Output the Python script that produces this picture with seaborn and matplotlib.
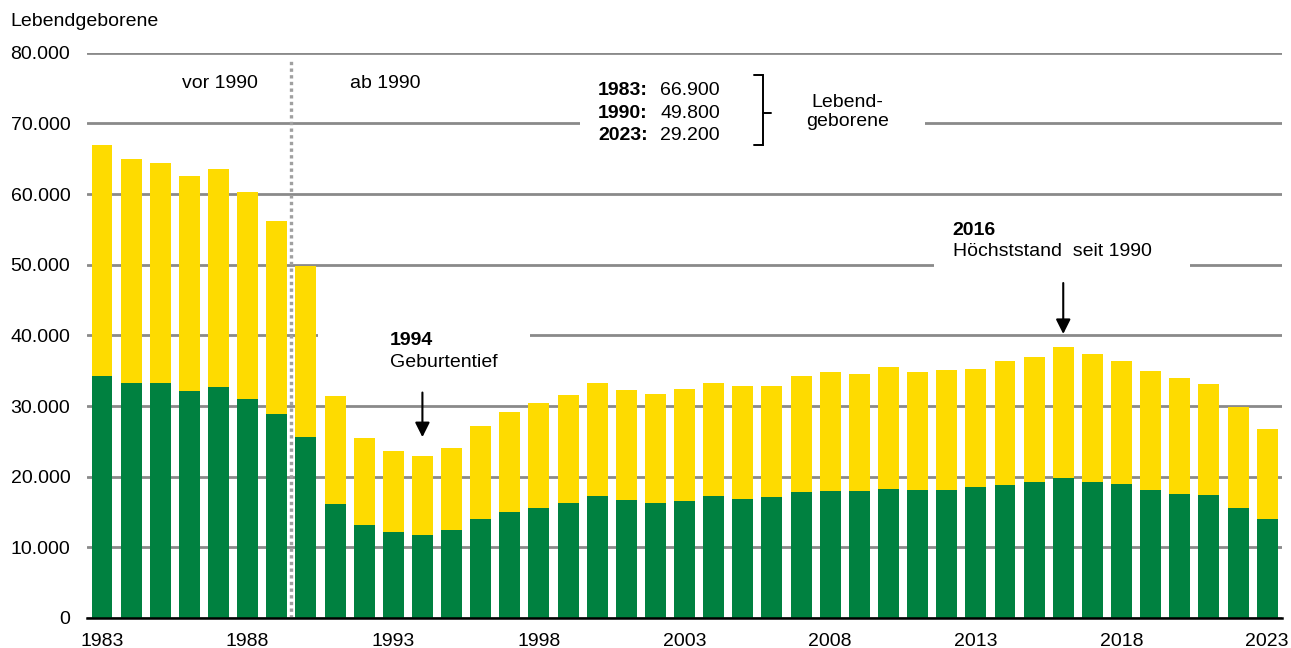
import matplotlib
matplotlib.use("Agg")
import matplotlib.pyplot as plt
import seaborn as sns
import pandas as pd
from matplotlib.patches import Rectangle

# Lebendgeborene je Jahr (gesamt) und unterer (grüner) Anteil
years = list(range(1983, 2024))
total = [66900, 65000, 64400, 62600, 63500, 60300, 56200, 49800, 31400, 25500,
         23600, 22900, 24100, 27200, 29200, 30400, 31600, 33300, 32200, 31700,
         32400, 33300, 32900, 32900, 34200, 34800, 34500, 35500, 34800, 35100,
         35200, 36400, 37000, 38400, 37300, 36400, 35000, 33900, 33100, 29900,
         26800]
green = [34300, 33300, 33200, 32100, 32700, 31000, 28900, 25600, 16200, 13100,
         12200, 11800, 12400, 14000, 15000, 15600, 16300, 17200, 16700, 16300,
         16500, 17200, 16900, 17100, 17800, 18000, 18000, 18300, 18100, 18100,
         18500, 18800, 19200, 19800, 19300, 19000, 18100, 17600, 17400, 15600,
         14000]
yticks = [0, 10000, 20000, 30000, 40000, 50000, 60000, 70000, 80000]
ytick_labels = ["0", "10.000", "20.000", "30.000", "40.000", "50.000", "60.000", "70.000", "80.000"]
xtick_years = [1983, 1988, 1993, 1998, 2003, 2008, 2013, 2018, 2023]
info_years = ["1983:", "1990:", "2023:"]
info_values = ["66.900", "49.800", "29.200"]

df = pd.DataFrame({"Jahr": [str(y) for y in years], "gesamt": total, "gruen": green})

sns.set_theme(style="white")
plt.rcParams["font.family"] = ["Liberation Sans", "DejaVu Sans"]
plt.rcParams["text.color"] = "black"

YELLOW = "#FEDB00"
GREEN = "#008140"
GRID = "#8a8a8a"

fig = plt.figure(figsize=(12.91, 6.48), dpi=100)
ax = fig.add_axes([87 / 1291, 30 / 648, 1195 / 1291, 565.3 / 648])

sns.barplot(data=df, x="Jahr", y="gesamt", color=YELLOW, saturation=1, width=0.72,
            linewidth=0, ax=ax, zorder=3)
sns.barplot(data=df, x="Jahr", y="gruen", color=GREEN, saturation=1, width=0.72,
            linewidth=0, ax=ax, zorder=3)

ax.set_xlim(-0.515, 40.51)
ax.set_ylim(0, 80000)
ax.set_yticks(yticks)
ax.set_yticklabels(ytick_labels)
idx = [years.index(y) for y in xtick_years]
ax.set_xticks(idx)
ax.set_xticklabels([str(y) for y in xtick_years])
ax.tick_params(axis="both", length=0, labelsize=14, colors="black")
ax.tick_params(axis="y", pad=12)
ax.tick_params(axis="x", pad=11)
ax.set_xlabel("")
ax.set_ylabel("")

ax.yaxis.grid(True, color=GRID, linewidth=2.0, zorder=0)
ax.set_axisbelow(True)
for s in ["top", "right", "left"]:
    ax.spines[s].set_visible(False)
ax.spines["bottom"].set_color("black")
ax.spines["bottom"].set_linewidth(1.8)
ax.spines["bottom"].set_zorder(5)

# weiße Flächen, die die Gitterlinien hinter den Beschriftungen unterbrechen
for x0, x1, y0, y1 in [(16.41, 28.26, 66000, 76500), (7.4, 14.7, 37000, 43000), (28.57, 37.36, 47000, 57500)]:
    ax.add_patch(Rectangle((x0, y0), x1 - x0, y1 - y0, facecolor="white", edgecolor="none", zorder=1))

# Trennlinie 1989/1990
ax.axvline(6.5, ymin=0, ymax=0.99, color="#a0a0a0", linewidth=2.4, linestyle=(0, (1, 1)), zorder=4)

ax.text(4.05, 75700, "vor 1990", ha="center", va="center", fontsize=14)
ax.text(9.72, 75700, "ab 1990", ha="center", va="center", fontsize=14)

for i, (lab, val) in enumerate(zip(info_years, info_values)):
    yy = 74600 - i * 3150
    ax.text(17.03, yy, lab, ha="left", va="center", fontsize=14, fontweight="bold", zorder=6)
    ax.text(19.16, yy, val, ha="left", va="center", fontsize=14, zorder=6)

# Klammer
ax.plot([22.4, 22.7, 22.7, 22.4], [66900, 66900, 76800, 76800], color="black", lw=1.4, zorder=6,
        solid_joinstyle="miter")
ax.plot([22.7, 22.95], [71500, 71500], color="black", lw=1.4, zorder=6)
ax.text(25.6, 71600, "Lebend-\ngeborene", ha="center", va="center", fontsize=14, linespacing=1.15, zorder=6)

ax.text(9.89, 39300, "1994", ha="left", va="center", fontsize=14, fontweight="bold", zorder=6)
ax.text(9.89, 36200, "Geburtentief", ha="left", va="center", fontsize=14, zorder=6)
ax.annotate("", xy=(11, 25200), xytext=(11, 32300),
            arrowprops=dict(arrowstyle="-|>", color="black", lw=1.5, mutation_scale=22), zorder=6)

ax.text(29.2, 54900, "2016", ha="left", va="center", fontsize=14, fontweight="bold", zorder=6)
ax.text(29.2, 51800, "Höchststand  seit 1990", ha="left", va="center", fontsize=14, zorder=6)
ax.annotate("", xy=(33, 39800), xytext=(33, 47800),
            arrowprops=dict(arrowstyle="-|>", color="black", lw=1.5, mutation_scale=22), zorder=6)

fig.text(10 / 1291, 1 - 22 / 648, "Lebendgeborene", ha="left", va="center", fontsize=14)

fig.savefig("out.png", dpi=100, facecolor="white")
